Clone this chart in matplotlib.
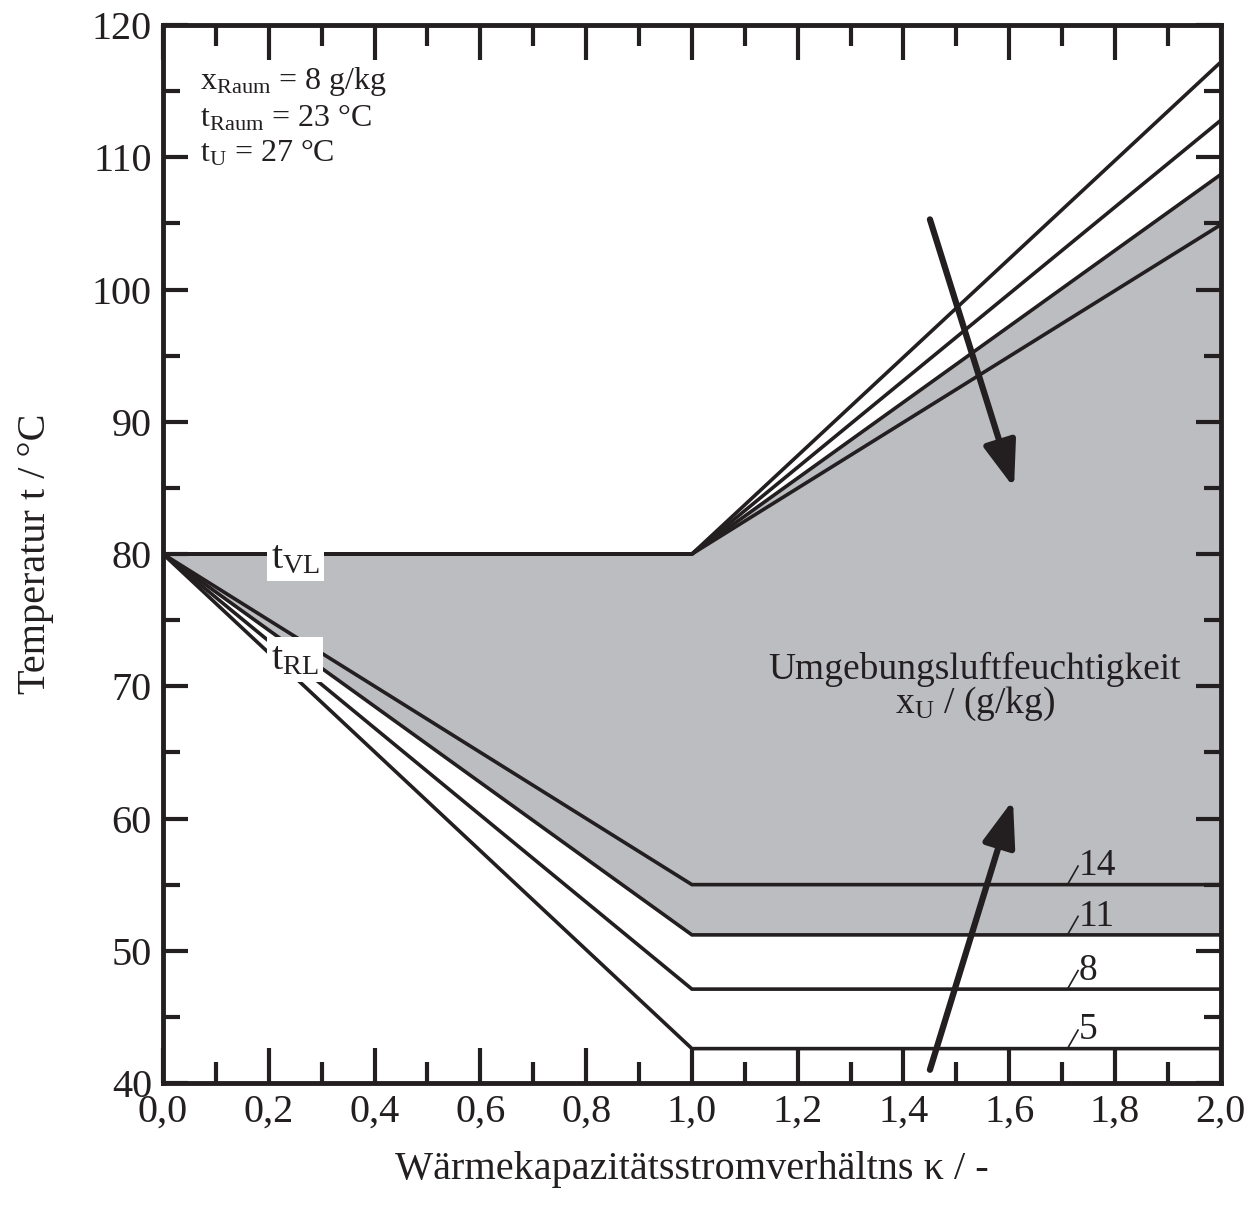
import matplotlib
matplotlib.use("Agg")
import matplotlib.pyplot as plt
from matplotlib.ticker import MultipleLocator, FuncFormatter

plt.rcParams['font.family'] = ['Liberation Serif', 'DejaVu Serif']
plt.rcParams['mathtext.fontset'] = 'custom'
plt.rcParams['mathtext.rm'] = 'Liberation Serif'
plt.rcParams['mathtext.it'] = 'Liberation Serif:italic'

# ---- data ----
kappa = [0.0, 1.0, 2.0]
xU_labels = ["5", "8", "11", "14"]
t_VL = {
    "5":  [80, 80, 117.2],
    "8":  [80, 80, 112.8],
    "11": [80, 80, 108.7],
    "14": [80, 80, 104.9],
}
t_RL = {
    "5":  [80, 42.6, 42.6],
    "8":  [80, 47.1, 47.1],
    "11": [80, 51.2, 51.2],
    "14": [80, 55.0, 55.0],
}
shaded = "11"

LC = '#231f20'
GRAY = '#bcbdc1'

fig = plt.figure(figsize=(12.56, 12.14), dpi=100)
ax = fig.add_axes([0.1298, 0.1079, 0.972 - 0.1298, 0.9794 - 0.1079])

ax.fill_between(kappa, t_RL[shaded], t_VL[shaded], color=GRAY, lw=0, zorder=1)
for k in xU_labels:
    ax.plot(kappa, t_VL[k], color=LC, lw=2.6, zorder=3, solid_joinstyle='miter')
    ax.plot(kappa, t_RL[k], color=LC, lw=2.6, zorder=3, solid_joinstyle='miter')

ax.set_xlim(0, 2.0)
ax.set_ylim(40, 120)
ax.xaxis.set_major_locator(MultipleLocator(0.2))
ax.xaxis.set_minor_locator(MultipleLocator(0.1))
ax.yaxis.set_major_locator(MultipleLocator(10))
ax.yaxis.set_minor_locator(MultipleLocator(5))
ax.xaxis.set_major_formatter(FuncFormatter(lambda v, p: f"{v:.1f}".replace('.', ',')))
ax.tick_params(which='both', direction='in', top=True, right=True, color=LC,
               labelsize=29, labelcolor=LC)
ax.tick_params(which='major', length=25, width=3, pad=8)
ax.tick_params(which='minor', length=15, width=3)
ax.tick_params(axis='y', which='major', length=18)
ax.tick_params(axis='y', which='minor', length=12)
for s in ax.spines.values():
    s.set_linewidth(3.5)
    s.set_color(LC)

ax.set_xlabel('Wärmekapazitätsstromverhältns κ / -', fontsize=29, color=LC, labelpad=14)
ax.set_ylabel('Temperatur t / °C', fontsize=29, color=LC, labelpad=27)

# annotations
ax.text(0.07, 115.15, r'$\mathrm{x_{Raum}}$ = 8 g/kg', fontsize=23, color=LC, va='baseline')
ax.text(0.07, 112.35, r'$\mathrm{t_{Raum}}$ = 23 °C', fontsize=23, color=LC, va='baseline')
ax.text(0.07, 109.65, r'$\mathrm{t_{U}}$ = 27 °C', fontsize=23, color=LC, va='baseline')

bb = dict(facecolor='white', edgecolor='none', pad=3)
ax.text(0.25, 79.7, r'$\mathrm{t_{VL}}$', fontsize=29, color=LC, ha='center', va='center',
        bbox=bb, zorder=5)
ax.text(0.25, 72.0, r'$\mathrm{t_{RL}}$', fontsize=29, color=LC, ha='center', va='center',
        bbox=bb, zorder=5)

ax.text(1.535, 71.3, 'Umgebungsluftfeuchtigkeit', fontsize=27, color=LC, ha='center', va='center')
ax.text(1.535, 68.7, r'$\mathrm{x_{U}}$ / (g/kg)', fontsize=27, color=LC, ha='center', va='center')

for k in xU_labels:
    y = t_RL[k][-1]
    ax.plot([1.71, 1.73], [y, y + 1.4], color=LC, lw=1.2, zorder=4)
    ax.text(1.732, y + 0.1, k, fontsize=27, color=LC, ha='left', va='bottom')

arrow = dict(arrowstyle='-|>,head_length=2.8,head_width=1.0', color=LC, lw=4.5,
             shrinkA=0, shrinkB=0)
ax.annotate('', xy=(1.609, 85.0), xytext=(1.45, 105.3), arrowprops=arrow, zorder=6)
ax.annotate('', xy=(1.607, 61.4), xytext=(1.45, 41.0), arrowprops=arrow, zorder=6)

fig.savefig('out.png', dpi=100)
